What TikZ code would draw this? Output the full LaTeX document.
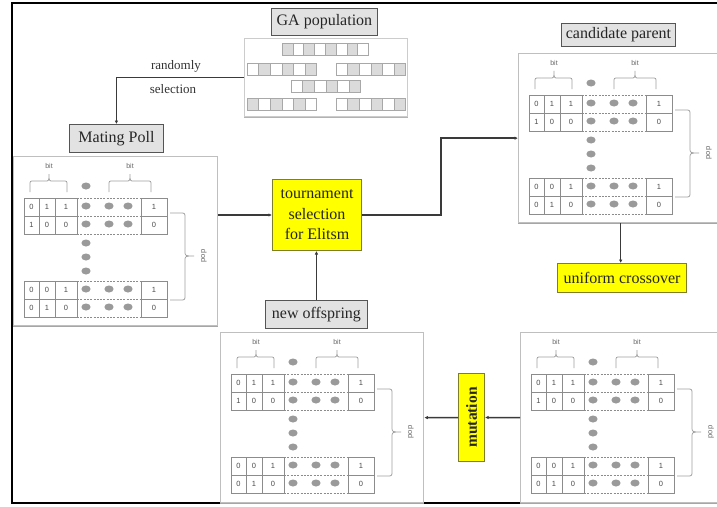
\documentclass[tikz,border=0pt]{standalone}
\usepackage{fontspec}
\setmainfont{Liberation Serif}
\newfontfamily\smallsans{Liberation Sans}
\usetikzlibrary{arrows.meta}
\definecolor{boxedge}{HTML}{555555}
\definecolor{lblfill}{HTML}{E2E2E2}
\definecolor{ylw}{HTML}{FFFF00}
\definecolor{ylwedge}{HTML}{7F7F2A}
\definecolor{celledge}{HTML}{8C8C8C}
\definecolor{dotc}{HTML}{9A9A9A}
\definecolor{connc}{HTML}{3A3A3A}
\definecolor{gacelledge}{HTML}{A8A8A8}
\colorlet{gc1}{gray!28}
\colorlet{gc0}{white}
\tikzset{
  lbl/.style={draw=boxedge, fill=lblfill, line width=0.9pt, inner sep=0pt, anchor=north west,
    font=\fontsize{16}{18}\selectfont, text=black!85},
  ybox/.style={draw=ylwedge, fill=ylw, line width=1pt, inner sep=0pt, anchor=north west,
    font=\fontsize{15.5}{20.5}\selectfont, align=center, text=black!85},
  panelbox/.style={draw=gray!50, fill=white, line width=1.3pt, inner sep=0pt, anchor=north west},
  conn/.style={draw=connc, line width=1.5pt, -{Latex[length=3.5pt,width=3.5pt]}},
  bitlab/.style={font=\smallsans\fontsize{7}{8}\selectfont, text=black!60, inner sep=0pt},
  digit/.style={font=\smallsans\fontsize{7.5}{8}\selectfont, text=black!70, inner sep=0pt},
  tline/.style={draw=celledge, line width=0.65pt},
  tdash/.style={draw=celledge, line width=0.65pt, dash pattern=on 2pt off 1.3pt},
  bracestyle/.style={draw=gray!75, line width=0.75pt},
  gacell/.style={draw=gacelledge, line width=0.5pt},
  freetext/.style={font=\fontsize{13}{15}\selectfont, text=black!80, inner sep=0pt}
}
% one table of two chromosomes: #1 top y, #2-#5 row one digits, #6-#9 row two digits
\newcommand\chromotable[9]{%
  \pgfmathsetmacro\ya{#1}\pgfmathsetmacro\yb{#1+18}\pgfmathsetmacro\yc{#1+36}%
  \pgfmathsetmacro\ra{#1+9}\pgfmathsetmacro\rb{#1+27}%
  \draw[tline] (11,\ya) rectangle (64,\yc) (128,\ya) rectangle (154,\yc)
    (11,\yb) -- (64,\yb) (128,\yb) -- (154,\yb) (26,\ya) -- (26,\yc) (42,\ya) -- (42,\yc);
  \draw[tdash] (64,\ya) -- (128,\ya) (64,\yb) -- (128,\yb) (64,\yc) -- (128,\yc);
  \node[digit] (\pn-t#1-a1) at (18.5,\ra) {#2};
  \node[digit] (\pn-t#1-a2) at (34,\ra) {#3};
  \node[digit] (\pn-t#1-a3) at (53,\ra) {#4};
  \node[digit] (\pn-t#1-a4) at (141,\ra) {#5};
  \node[digit] (\pn-t#1-b1) at (18.5,\rb) {#6};
  \node[digit] (\pn-t#1-b2) at (34,\rb) {#7};
  \node[digit] (\pn-t#1-b3) at (53,\rb) {#8};
  \node[digit] (\pn-t#1-b4) at (141,\rb) {#9};
  \foreach \dx in {73,96,115} {
    \fill[dotc] (\dx,\ra-1) ellipse [x radius=4.6, y radius=3.5];
    \fill[dotc] (\dx,\rb-1) ellipse [x radius=4.6, y radius=3.5];
  }%
}
% one panel: #1 name, #2 x, #3 y, #4 width, #5 height
\newcommand\chromopanel[5]{%
  \node[panelbox, minimum width=#4pt, minimum height=#5pt] (#1) at (#2,#3) {};
  \draw[gray!70, line width=1.3pt] (#1.south west) -- (#1.south east);
  \begin{scope}[shift={(#2,#3)}]
    \def\pn{#1}%
    \node[bitlab] (#1-bit1) at (36,10) {bit};
    \node[bitlab] (#1-bit2) at (117,10) {bit};
    \draw[bracestyle] (17,36) -- (17,29) .. controls (17,25) .. (21,25) -- (32,25)
      .. controls (36,25) .. (36,18) .. controls (36,25) .. (40,25) -- (50,25)
      .. controls (54,25) .. (54,29) -- (54,36);
    \draw[bracestyle] (96,36) -- (96,29) .. controls (96,25) .. (100,25) -- (113,25)
      .. controls (117,25) .. (117,18) .. controls (117,25) .. (121,25) -- (134,25)
      .. controls (138,25) .. (138,29) -- (138,36);
    \draw[bracestyle] (157,57) -- (167,57) .. controls (172,57) .. (172,62) -- (172,95)
      .. controls (172,100) .. (181,100) .. controls (172,100) .. (172,105) -- (172,139)
      .. controls (172,144) .. (167,144) -- (157,144);
    \node[bitlab, rotate=90, font=\smallsans\fontsize{7.5}{8}\selectfont] (#1-pop) at (191,100) {pop};
    \foreach \dy in {30,87,101,115} {\fill[dotc] (73,\dy) ellipse [x radius=4.6, y radius=3.5];}
    \chromotable{42}{0}{1}{1}{1}{1}{0}{0}{0}
    \chromotable{125}{0}{0}{1}{1}{0}{1}{0}{0}
  \end{scope}%
}
% one row of GA cells: #1 x, #2 y, #3 cell width, #4 pattern
\newcommand\garow[4]{%
  \foreach \c [count=\i from 0] in {#4} {
    \draw[gacell, fill=gc\c] (#1+\i*#3,#2) rectangle ++(#3,12);
  }%
}
\begin{document}
\begin{tikzpicture}[x=1pt,y=-1pt]
\useasboundingbox (0,0) rectangle (717,506);
\clip (0,0) rectangle (717,506);
\fill[white] (0,0) rectangle (717,506);

% outer frame
\draw[black, line width=2.6pt] (717,3) -- (12,3) -- (12,503) -- (717,503);

% GA population
\node[lbl, minimum width=106pt, minimum height=27pt] (galab) at (271,8) {GA population};
\node[panelbox, draw=gray!40, minimum width=163pt, minimum height=78pt] (gapanel) at (244,38) {};
\draw[gray!60, line width=1.2pt] (gapanel.south west) -- (gapanel.south east);
\garow{282}{43}{10.8}{1,0,1,0,1,0,1,0}
\garow{247}{63}{11.6}{0,1,0,1,0,1}
\garow{336}{63}{11.6}{0,1,0,1,0,1}
\garow{291}{80}{11.6}{0,1,0,1,0,1}
\garow{247}{98}{11.6}{1,0,1,0,1,0}
\garow{336}{98}{11.6}{0,1,0,1,0,1}

% labels
\node[lbl, minimum width=94pt, minimum height=28pt] (matlab) at (69,124) {Mating Poll};
\node[lbl, minimum width=114pt, minimum height=23pt] (candlab) at (561,23) {candidate parent};
\node[lbl, minimum width=102pt, minimum height=28pt] (offlab) at (265,300) {new offspring};

% panels
\chromopanel{mating}{13}{156}{204}{169}
\chromopanel{cand}{518}{53}{204}{169}
\chromopanel{off}{220}{332}{203}{170}
\chromopanel{br}{520}{332}{204}{170}

% yellow boxes
\node[ybox, minimum width=89pt, minimum height=71pt, font=\fontsize{16}{20.5}\selectfont] (tourn) at (272,179) {tournament\\selection\\for Elitsm};
\node[ybox, minimum width=129pt, minimum height=29pt, font=\fontsize{16}{17}\selectfont] (cross) at (557,263) {uniform crossover};
\node[ybox, minimum width=26pt, minimum height=88pt] (mut) at (458,373) {};
\node[font=\fontsize{15.5}{17}\selectfont\bfseries, text=black!85, rotate=90, inner sep=0pt] (muttext) at (mut.center) {mutation};

% free text
\node[freetext] (rand1) at (176,66) {randomly};
\node[freetext] (rand2) at (173,89) {selection};

% connectors
\draw[conn] (gapanel.west) -| (matlab.north);
\draw[conn] (mating.east |- tourn.west) -- (tourn.west);
\draw[conn] (tourn.east) -- ++(79,0) |- (cand.west);
\draw[conn] (cand.south) -- (cand.south |- cross.north);
\draw[conn] (br.west) -- (mut.east);
\draw[conn] (mut.west) -- (off.east);
\draw[conn] (offlab.north) -- (offlab.north |- tourn.south);
\end{tikzpicture}
\end{document}
